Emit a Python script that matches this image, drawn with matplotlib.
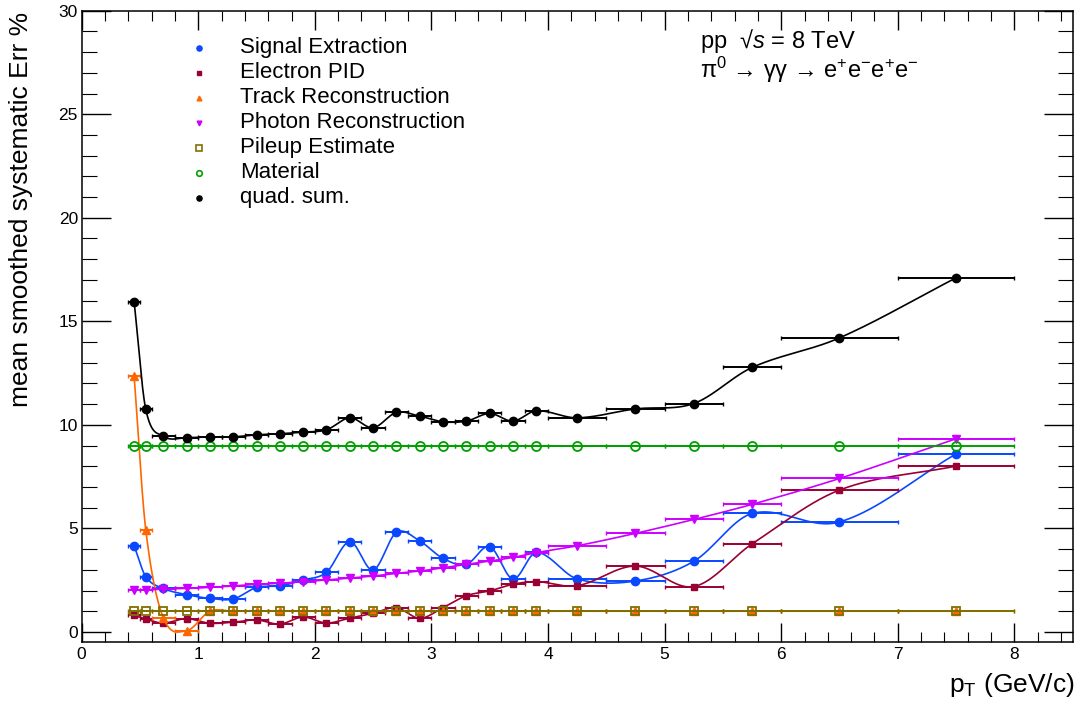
import numpy as np
import matplotlib
matplotlib.use("Agg")
import matplotlib.pyplot as plt
from matplotlib.ticker import MultipleLocator
from matplotlib.lines import Line2D

plt.rcParams['font.family'] = ['Liberation Sans', 'DejaVu Sans']
plt.rcParams['mathtext.fontset'] = 'custom'
plt.rcParams['mathtext.rm'] = 'Liberation Sans'
plt.rcParams['mathtext.it'] = 'Liberation Sans:italic'
plt.rcParams['mathtext.bf'] = 'Liberation Sans:bold'

# pT bins (GeV/c): centres and half widths
pt_centers = [0.45, 0.55, 0.7, 0.9, 1.1, 1.3, 1.5, 1.7, 1.9, 2.1, 2.3, 2.5, 2.7,
              2.9, 3.1, 3.3, 3.5, 3.7, 3.9, 4.25, 4.75, 5.25, 5.75, 6.5, 7.5]
pt_halfwidth = [0.05, 0.05, 0.1, 0.1, 0.1, 0.1, 0.1, 0.1, 0.1, 0.1, 0.1, 0.1, 0.1,
                0.1, 0.1, 0.1, 0.1, 0.1, 0.1, 0.25, 0.25, 0.25, 0.25, 0.5, 0.5]

# mean smoothed systematic errors (%) per source
signal_extraction = [4.16, 2.67, 2.1, 1.8, 1.62, 1.59, 2.15, 2.22, 2.51, 2.88, 4.36, 2.99, 4.81,
                     4.39, 3.55, 3.26, 4.12, 2.56, 3.84, 2.56, 2.46, 3.41, 5.72, 5.31, 8.6]
electron_pid = [0.8, 0.62, 0.43, 0.64, 0.42, 0.47, 0.58, 0.38, 0.72, 0.43, 0.67, 0.9, 1.17,
                0.66, 1.17, 1.75, 1.98, 2.3, 2.43, 2.23, 3.18, 2.19, 4.25, 6.85, 8.01]
track_reco = [12.36, 4.93, 0.69, 0.06, 1.0, 1.0, 1.0, 1.0, 1.0, 1.0, 1.0, 1.0, 1.0,
              1.0, 1.0, 1.0, 1.0, 1.0, 1.0, 1.0, 1.0, 1.0, 1.0, 1.0, 1.0]
photon_reco = [2.02, 2.03, 2.07, 2.1, 2.15, 2.22, 2.3, 2.35, 2.43, 2.51, 2.6, 2.7, 2.83,
               2.94, 3.1, 3.26, 3.42, 3.6, 3.83, 4.16, 4.76, 5.43, 6.16, 7.41, 9.33]
pileup = [1.0] * 25
material = [9.0] * 25
quad_sum = [15.95, 10.75, 9.45, 9.38, 9.42, 9.42, 9.52, 9.57, 9.65, 9.76, 10.34, 9.86, 10.6,
            10.42, 10.15, 10.18, 10.55, 10.18, 10.68, 10.34, 10.77, 11.03, 12.77, 14.2, 17.1]

labels = ["Signal Extraction", "Electron PID", "Track Reconstruction",
          "Photon Reconstruction", "Pileup Estimate", "Material", "quad. sum."]


def smooth_curve(x, y, n=40):
    """Cubic Hermite curve through the points (Catmull-Rom style tangents)."""
    x = np.asarray(x, float)
    y = np.asarray(y, float)
    m = np.empty_like(y)
    m[1:-1] = (y[2:] - y[:-2]) / (x[2:] - x[:-2])
    m[0] = (y[1] - y[0]) / (x[1] - x[0])
    m[-1] = (y[-1] - y[-2]) / (x[-1] - x[-2])
    xs, ys = [], []
    for i in range(len(x) - 1):
        h = x[i + 1] - x[i]
        t = np.linspace(0, 1, n, endpoint=(i == len(x) - 2))
        h00 = 2 * t**3 - 3 * t**2 + 1
        h10 = t**3 - 2 * t**2 + t
        h01 = -2 * t**3 + 3 * t**2
        h11 = t**3 - t**2
        xs.append(x[i] + h * t)
        ys.append(h00 * y[i] + h10 * h * m[i] + h01 * y[i + 1] + h11 * h * m[i + 1])
    return np.concatenate(xs), np.concatenate(ys)


fig = plt.figure(figsize=(10.8, 7.09), dpi=100)
ax = fig.add_axes([0.0756, 0.0941, 0.9932 - 0.0756, 0.9849 - 0.0941])

series = [
    (signal_extraction, '#0a48ff', 'o', True, 6.0),
    (electron_pid, '#990033', 's', True, 5.0),
    (track_reco, '#ff6600', '^', True, 5.5),
    (photon_reco, '#cc00ff', 'v', True, 5.5),
    (pileup, '#807000', 's', False, 6.0),
    (material, '#00a000', 'o', False, 6.5),
    (quad_sum, '#000000', 'o', True, 6.0),
]

for k, (vals, col, mk, filled, ms) in enumerate(series):
    z = 2 + k
    ax.errorbar(pt_centers, vals, xerr=pt_halfwidth, fmt='none', ecolor=col,
                elinewidth=1.4, capsize=1.6, capthick=1.0, zorder=z)
    cx, cy = smooth_curve(pt_centers, vals)
    ax.plot(cx, cy, color=col, lw=1.2, zorder=z)
    ax.plot(pt_centers, vals, ls='none', marker=mk, ms=ms,
            mfc=col if filled else 'none', mec=col, mew=1.0 if filled else 1.3, zorder=z + 0.5)

ax.set_xlim(0, 8.5)
ax.set_ylim(-0.5, 30)
ax.xaxis.set_major_locator(MultipleLocator(1))
ax.xaxis.set_minor_locator(MultipleLocator(0.2))
ax.yaxis.set_major_locator(MultipleLocator(5))
ax.yaxis.set_minor_locator(MultipleLocator(1))
ax.tick_params(which='both', direction='in', top=True, right=True, labelsize=12.5)
ax.xaxis.set_tick_params(which='major', length=13.7, width=1.0, pad=3.6)
ax.xaxis.set_tick_params(which='minor', length=7.0, width=0.8)
ax.yaxis.set_tick_params(which='major', length=21.0, width=1.0, pad=2.7)
ax.yaxis.set_tick_params(which='minor', length=10.8, width=0.8)
for sp in ax.spines.values():
    sp.set_linewidth(1.1)

fig.text(0.0195, 0.983, "mean smoothed systematic Err %", rotation=90,
         ha='center', va='top', fontsize=19)
fig.text(0.9954, 1 - 692 / 709, r"p$_{\mathrm{T}}$ (GeV/c)", ha='right',
         va='baseline', fontsize=19)

# legend
W, H = 1080.0, 709.0
for i, (lab, (vals, col, mk, filled, ms)) in enumerate(zip(labels, series)):
    yc = 48.3 + 25 * i
    fig.add_artist(Line2D([199 / W], [1 - yc / H], transform=fig.transFigure,
                          ls='none', marker=mk, ms=ms * 0.62,
                          mfc=col if filled else 'none', mec=col,
                          mew=1.0 if filled else 1.2))
    fig.text(240 / W, 1 - (53.3 + 25 * i) / H, lab, ha='left', va='baseline', fontsize=16)

# collision system and decay channel
fig.text(700 / W, 1 - 78 / H,
         "pp  √$\\mathit{s}$ = 8 TeV\nπ$^{0}$ → γγ → e$^{+}$e$^{-}$e$^{+}$e$^{-}$",
         ha='left', va='baseline', fontsize=17, linespacing=1.0)

fig.savefig("out.png", dpi=100)
